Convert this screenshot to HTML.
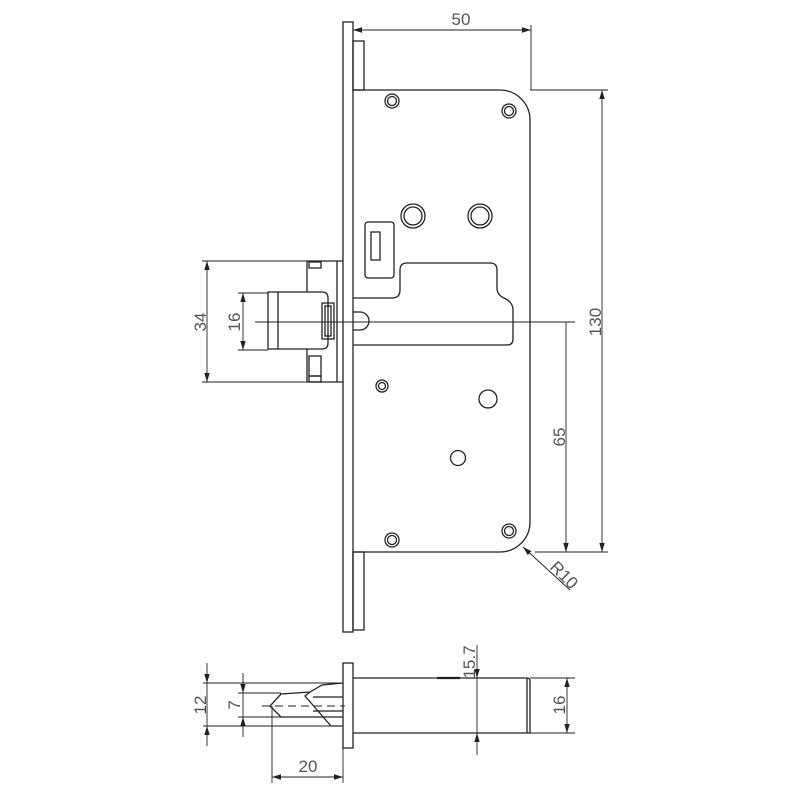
<!DOCTYPE html>
<html><head><meta charset="utf-8"><style>
html,body{margin:0;padding:0;background:#fff;}
svg{display:block;}
text{font-family:"Liberation Sans",sans-serif;font-size:17px;fill:#555;}
</style></head><body>
<svg width="800" height="800" viewBox="0 0 800 800" xmlns="http://www.w3.org/2000/svg">
<defs>
<marker id="a" viewBox="0 0 10 10" refX="10" refY="5" markerWidth="9" markerHeight="9" orient="auto-start-reverse" markerUnits="userSpaceOnUse"><path d="M0,2 L10,5 L0,8 z" fill="#222"/></marker>
</defs>
<g fill="none" stroke="#222" stroke-width="1.3">
<rect x="343" y="22" width="10" height="610"/>
<rect x="353" y="41" width="11" height="49"/>
<rect x="353" y="552" width="11" height="78"/>
<path d="M353,90 H500 A30,30 0 0 1 530,120 V522 A30,30 0 0 1 500,552 H353"/>
<circle cx="392" cy="101" r="7"/><circle cx="392" cy="101" r="4.5"/>
<circle cx="509" cy="111" r="7"/><circle cx="509" cy="111" r="4.5"/>
<circle cx="413" cy="216" r="12"/><circle cx="413" cy="216" r="9"/>
<circle cx="480" cy="216" r="12"/><circle cx="480" cy="216" r="9"/>
<rect x="365" y="222" width="29" height="56" rx="3"/>
<rect x="371" y="232" width="9" height="28"/>
<path d="M353,298 H392 Q400,298 400,290 V270 Q400,263 407,263 H490 Q497,263 497,270 V288 Q497,295 504,298 Q513,302 513,310 V339 Q513,345 507,345 H353"/>
<path d="M353,312 H360 A9,9 0 0 1 360,330 H353"/>
<circle cx="382" cy="386" r="6"/><circle cx="382" cy="386" r="3.5"/>
<circle cx="488" cy="399" r="9"/>
<circle cx="458" cy="458" r="7.5"/>
<circle cx="392" cy="540" r="7"/><circle cx="392" cy="540" r="4.5"/>
<circle cx="509" cy="531" r="7"/><circle cx="509" cy="531" r="4.5"/>
<path d="M343,261 H307 V292 M307,349 V382 H343"/>
<path d="M337,261 V382"/>
<rect x="309" y="262" width="12" height="6"/>
<rect x="309" y="356" width="12" height="20"/>
<rect x="309" y="376" width="12" height="6"/>
<path d="M268,292 H322 Q328,292 328,298 V343 Q328,349 322,349 H268 Z"/>
<path d="M278,292 V349"/>
<rect x="322" y="303" width="12" height="36"/>
<rect x="325" y="306" width="6" height="30"/>
<rect x="343" y="663" width="10" height="85"/>
<path d="M353,678 H527 Q530,678 530,681 V733 H353"/>
<path d="M527,678 V733"/>
<path d="M343,683 L322,685 L310,692 L281,694 L270,706 L281,717 L343,717"/>
<path d="M310,692 L305,696 L331,726 L343,726 M313,697 H343 M313,711 H343"/>
</g>
<path d="M437,678 H460" stroke="#222" stroke-width="2.2"/>
<g fill="none" stroke="#222" stroke-width="0.9">
<path d="M255,322 H575"/>
<path d="M262,706 H345" stroke-dasharray="8,5"/>
<path d="M531,25 V90"/>
<path d="M353,30 H531" marker-start="url(#a)" marker-end="url(#a)"/>
<path d="M530,90 H608 M535,552 H608"/>
<path d="M602,90 V552" marker-start="url(#a)" marker-end="url(#a)"/>
<path d="M566,322 V552" marker-end="url(#a)"/>
<path d="M570,590 L523,547" marker-end="url(#a)"/>
<path d="M202,261 H307 M202,382 H307 M238,293 H268 M238,350 H268"/>
<path d="M207,261 V382" marker-start="url(#a)" marker-end="url(#a)"/>
<path d="M243,293 V350" marker-start="url(#a)" marker-end="url(#a)"/>
<path d="M203,683 H343 M203,726 H330 M238,693 H281 M238,717 H281"/>
<path d="M207,663 V683" marker-end="url(#a)"/>
<path d="M207,746 V726" marker-end="url(#a)"/>
<path d="M207,683 V726"/>
<path d="M243,673 V693" marker-end="url(#a)"/>
<path d="M243,737 V717" marker-end="url(#a)"/>
<path d="M243,693 V717"/>
<path d="M272,706 V783 M343,748 V783"/>
<path d="M272,777 H343" marker-start="url(#a)" marker-end="url(#a)"/>
<path d="M477,645 V678" marker-end="url(#a)"/>
<path d="M477,755 V733" marker-end="url(#a)"/>
<path d="M477,678 V733"/>
<path d="M530,678 H575 M530,733 H575"/>
<path d="M567,678 V733" marker-start="url(#a)" marker-end="url(#a)"/>
</g>
<text x="461" y="25" text-anchor="middle">50</text>
<text transform="translate(601,322) rotate(-90)" text-anchor="middle">130</text>
<text transform="translate(565,437) rotate(-90)" text-anchor="middle">65</text>
<text transform="translate(560,579) rotate(45)" text-anchor="middle">R10</text>
<text transform="translate(206,322) rotate(-90)" text-anchor="middle">34</text>
<text transform="translate(240,322) rotate(-90)" text-anchor="middle">16</text>
<text transform="translate(206,705) rotate(-90)" text-anchor="middle">12</text>
<text transform="translate(240,705) rotate(-90)" text-anchor="middle">7</text>
<text x="308" y="772" text-anchor="middle">20</text>
<text transform="translate(475,662) rotate(-90)" text-anchor="middle">15.7</text>
<text transform="translate(565,705) rotate(-90)" text-anchor="middle">16</text>
</svg>
</body></html>
